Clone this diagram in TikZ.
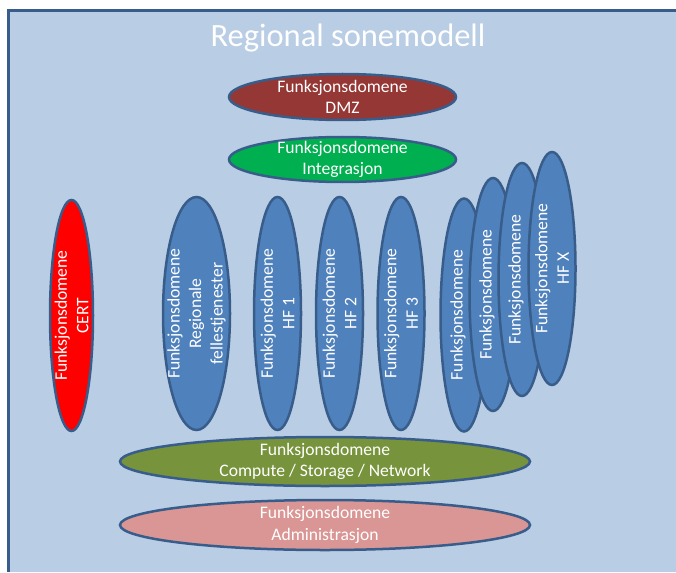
\documentclass[tikz,border=0pt]{standalone}
\usepackage{fontspec}
\setmainfont{Carlito}
\usetikzlibrary{shapes.geometric}

\definecolor{panel}{HTML}{B9CDE5}
\definecolor{rim}{HTML}{385D8A}
\definecolor{dmzred}{HTML}{953735}
\definecolor{intgreen}{HTML}{00B050}
\definecolor{certred}{HTML}{FF0000}
\definecolor{hfblue}{HTML}{4F81BD}
\definecolor{cmpgreen}{HTML}{77933C}
\definecolor{admpink}{HTML}{D99694}

\begin{document}
\begin{tikzpicture}[x=1pt, y=-1pt,
  domene/.style={ellipse, draw=rim, line width=2.5pt, inner sep=0pt},
  hf/.style={domene, fill=hfblue, minimum width=47pt, minimum height=233pt},
  txt/.style={text=white, align=center, inner sep=0pt, font=\fontsize{17.6}{21.5}\selectfont},
  vtxt/.style={txt, rotate=90}]
\useasboundingbox (0,0) rectangle (676,572);
\fill[panel] (8,11) rectangle (676,572);
\draw[rim, line width=3pt] (8,572) -- (8,11) -- (676,11);

\node[text=white, font=\fontsize{32.5}{38}\selectfont] (title) at (348,38) {Regional sonemodell};

% top
\node[domene, fill=dmzred, minimum width=227pt, minimum height=46pt] (dmz) at (342.5,97) {};
\node[txt] at (dmz) {Funksjonsdomene\\DMZ};
\node[domene, fill=intgreen, minimum width=227pt, minimum height=45pt] (integ) at (342.5,159.5) {};
\node[txt] at (integ) {Funksjonsdomene\\Integrasjon};

% middle row
\node[domene, fill=certred, minimum width=43pt, minimum height=231pt] (cert) at (71.5,315.5) {};
\node[vtxt] at (cert) {Funksjonsdomene\\CERT};
\node[hf, minimum width=67pt] (felles) at (196.5,313.5) {};
\node[vtxt] at (felles) {Funksjonsdomene\\Regionale\\fellestjenester};
\node[hf] (hf1) at (277.5,313.5) {};
\node[vtxt] at (hf1) {Funksjonsdomene\\HF 1};
\node[hf] (hf2) at (339.5,313.5) {};
\node[vtxt] at (hf2) {Funksjonsdomene\\HF 2};
\node[hf] (hf3) at (401,313.5) {};
\node[vtxt] at (hf3) {Funksjonsdomene\\HF 3};

% stack
\node[hf] (hfa) at (464,315) {};
\node[vtxt] at ([xshift=-6]hfa.center) {Funksjonsdomene};
\node[hf] (hfb) at (493,294.5) {};
\node[vtxt] at ([xshift=-6]hfb.center) {Funksjonsdomene};
\node[hf] (hfc) at (522,279.5) {};
\node[vtxt] at ([xshift=-6]hfc.center) {Funksjonsdomene};
\node[hf] (hfx) at (552,268.5) {};
\node[vtxt] at (hfx) {Funksjonsdomene\\HF X};

% bottom
\node[domene, fill=cmpgreen, minimum width=410pt, minimum height=49pt] (compute) at (325,461.5) {};
\node[txt] at (compute) {Funksjonsdomene\\Compute / Storage / Network};
\node[domene, fill=admpink, minimum width=410pt, minimum height=50pt] (admin) at (325,525) {};
\node[txt] at (admin) {Funksjonsdomene\\Administrasjon};
\end{tikzpicture}
\end{document}
